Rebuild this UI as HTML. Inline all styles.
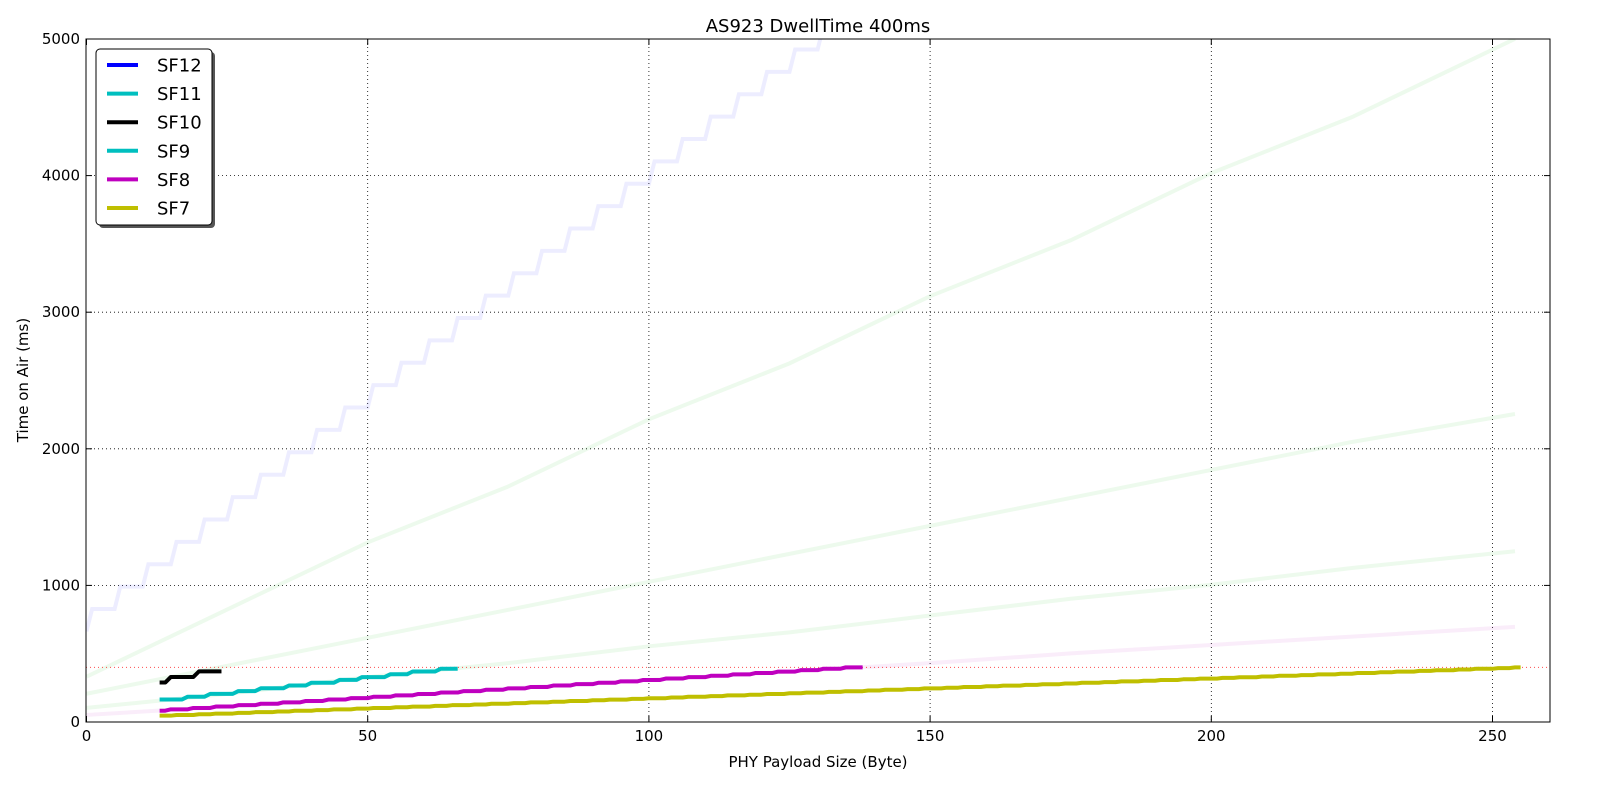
<!DOCTYPE html>
<html><head><meta charset="utf-8">
<style>
body{margin:0;background:#fff;width:1600px;height:800px;overflow:hidden;font-family:"Liberation Sans","DejaVu Sans",sans-serif}
svg text{font-family:"DejaVu Sans","Liberation Sans",sans-serif}
</style></head>
<body>
<svg id="chart" width="1600" height="800" xmlns="http://www.w3.org/2000/svg">
<defs><clipPath id="plotclip"><rect x="86" y="39" width="1464" height="683"/></clipPath></defs>
<rect x="0" y="0" width="1600" height="800" fill="#fff"/>
<text x="818" y="32" font-size="18" text-anchor="middle">AS923 DwellTime 400ms</text>
<g id="grid"></g>
<g id="faint" clip-path="url(#plotclip)"></g>
<line x1="86" x2="1550" y1="667.4" y2="667.4" stroke="#ff0000" stroke-width="1" stroke-dasharray="1,3" opacity="0.7"/>
<g id="bold" clip-path="url(#plotclip)"></g>
<rect x="86" y="39" width="1464" height="683" fill="none" stroke="#000" stroke-width="1"/>
<g id="ticks"></g>
<text x="818" y="767" font-size="15" text-anchor="middle">PHY Payload Size (Byte)</text>
<text transform="translate(28,380) rotate(-90)" font-size="15" text-anchor="middle">Time on Air (ms)</text>
<g>
<rect x="99" y="52" width="116" height="176" rx="4" fill="#555"/>
<rect x="96" y="49" width="116" height="176" rx="4" fill="#fff" stroke="#000" stroke-width="1"/>
<g id="legendEntries"></g>
</g>
</svg>
<script>
const xTicks=[0,50,100,150,200,250];
const yTicks=[0,1000,2000,3000,4000,5000];
const seriesNames=["SF12","SF11","SF10","SF9","SF8","SF7"];
const seriesColors=["#0000ff","#00bfbf","#000000","#00bfbf","#bf00bf","#bfbf00"];
// bold (within 400ms dwell limit) step levels: first payload of each level, airtime (ms)
const sf10X=[13,15,20];
const sf10Y=[288.8,329.7,370.7];
const sf10End=24;
const sf9X=[13,18,22,27,31,36,40,45,49,54,58,63];
const sf9Y=[164.9,185.3,205.8,226.3,246.8,267.3,287.7,308.2,328.7,349.2,369.7,390.1];
const sf9End=66;
const sf8X=[13,15,19,23,27,31,35,39,43,47,51,55,59,63,67,71,75,79,83,87,91,95,99,103,107,111,115,119,123,127,131,135];
const sf8Y=[82.4,92.7,102.9,113.2,123.4,133.6,143.9,154.1,164.4,174.6,184.8,195.1,205.3,215.6,225.8,236.0,246.3,256.5,266.8,277.0,287.2,297.5,307.7,318.0,328.2,338.4,348.7,358.9,369.2,379.4,389.6,399.9];
const sf8End=138;
const sf7X=[13,16,20,23,27,30,34,37,41,44,48,51,55,58,62,65,69,72,76,79,83,86,90,93,97,100,104,107,111,114,118,121,125,128,132,135,139,142,146,149,153,156,160,163,167,170,174,177,181,184,188,191,195,198,202,205,209,212,216,219,223,226,230,233,237,240,244,247,251,254];
const sf7Y=[46.3,51.5,56.6,61.7,66.8,71.9,77.1,82.2,87.3,92.4,97.5,102.7,107.8,112.9,118.0,123.1,128.3,133.4,138.5,143.6,148.7,153.9,159.0,164.1,169.2,174.3,179.5,184.6,189.7,194.8,199.9,205.1,210.2,215.3,220.4,225.5,230.7,235.8,240.9,246.0,251.1,256.3,261.4,266.5,271.6,276.7,281.9,287.0,292.1,297.2,302.3,307.5,312.6,317.7,322.8,327.9,333.1,338.2,343.3,348.4,353.5,358.7,363.8,368.9,374.0,379.1,384.3,389.4,394.5,399.6];
const sf7End=255;
// faint (full range)
const sf12FX=[0,1,6,11,16,21,26,31,36,41,46,51,56,61,66,71,76,81,86,91,96,101,106,111,116,121,126,131];
const sf12FY=[663.6,827.4,991.2,1155.1,1318.9,1482.8,1646.6,1810.4,1974.3,2138.1,2302.0,2465.8,2629.6,2793.5,2957.3,3121.2,3285.0,3448.8,3612.7,3776.5,3940.4,4104.2,4268.0,4431.9,4595.7,4759.6,4923.4,5087.2];
const sampleX=[0,25,50,75,100,125,150,175,200,225,254];
const sf11FY=[331.8,823.3,1314.8,1724.4,2215.9,2625.5,3117.1,3526.7,4018.2,4427.8,5001.2];
const sf10FY=[206.8,411.6,616.5,821.2,1026.0,1230.8,1435.6,1640.4,1845.2,2050.0,2254.9];
const sf9FY=[103.4,205.8,328.7,431.1,554.0,656.4,779.3,902.1,1004.5,1127.4,1250.3];
const sf8FY=[51.7,113.2,174.6,246.3,307.7,369.2,430.6,502.3,563.7,625.2,696.8];

const X=v=>86.5+v*5.624;
const Y=v=>722-v*0.1366;
const NS="http://www.w3.org/2000/svg";
function mk(tag,attrs,parent){const e=document.createElementNS(NS,tag);for(const k in attrs)e.setAttribute(k,attrs[k]);parent.appendChild(e);return e;}
const grid=document.getElementById('grid'),ticks=document.getElementById('ticks');
xTicks.forEach(t=>{
  if(t>0){const g=mk('line',{x1:X(t),x2:X(t),y1:39,y2:722,stroke:'#000','stroke-width':0.8,'stroke-dasharray':'1,3'},grid);
  
  }
  mk('line',{x1:X(t),x2:X(t),y1:722,y2:716,stroke:'#000'},ticks);
  mk('line',{x1:X(t),x2:X(t),y1:39,y2:45,stroke:'#000'},ticks);
  const l=mk('text',{x:X(t),y:741,'font-size':15,'text-anchor':'middle'},ticks);l.textContent=t;
  
  
});
yTicks.forEach(t=>{
  if(t>0&&t<5000){const g=mk('line',{x1:86,x2:1550,y1:Y(t),y2:Y(t),stroke:'#000','stroke-width':0.8,'stroke-dasharray':'1,3'},grid);
  
  }
  mk('line',{x1:86,x2:92,y1:Y(t),y2:Y(t),stroke:'#000'},ticks);
  mk('line',{x1:1550,x2:1544,y1:Y(t),y2:Y(t),stroke:'#000'},ticks);
  const l=mk('text',{x:80,y:Y(t)+5,'font-size':15,'text-anchor':'end'},ticks);l.textContent=t;
  
  
});
function stepPts(xs,ys,end){const p=[];for(let i=0;i<xs.length;i++){const e=i<xs.length-1?xs[i+1]-1:end;p.push(X(xs[i])+','+Y(ys[i]));p.push(X(e)+','+Y(ys[i]));}return p.join(' ');}
function linePts(xs,ys){return xs.map((x,i)=>X(x)+','+Y(ys[i])).join(' ');}
const faint=document.getElementById('faint'),bold=document.getElementById('bold');
const fa=[[stepPts(sf12FX,sf12FY,135),0],[linePts(sampleX,sf11FY),1],[linePts(sampleX,sf10FY),2],[linePts(sampleX,sf9FY),3],[linePts(sampleX,sf8FY),4]];
fa.forEach(([pts,i])=>{const p=mk('polyline',{points:pts,fill:'none',stroke:i==0?'#0000ff':(i==4?'#bf00bf':'#00bf00'),'stroke-width':4,opacity:0.07},faint);
  
  });
const bo=[[stepPts(sf7X,sf7Y,sf7End),5],[stepPts(sf8X,sf8Y,sf8End),4],[stepPts(sf9X,sf9Y,sf9End),3],[stepPts(sf10X,sf10Y,sf10End),2]];
bo.forEach(([pts,i])=>{const p=mk('polyline',{points:pts,fill:'none',stroke:seriesColors[i],'stroke-width':4,'stroke-linejoin':'round'},bold);
  
  });
const le=document.getElementById('legendEntries');
seriesNames.forEach((n,i)=>{const y=65+i*28.6;
  const g=mk('g',{},le);
  
  
  mk('line',{x1:107,x2:138,y1:y,y2:y,stroke:seriesColors[i],'stroke-width':4},g);
  const t=mk('text',{x:157,y:y+6.5,'font-size':18},g);t.textContent=n;});
</script>
</body></html>
